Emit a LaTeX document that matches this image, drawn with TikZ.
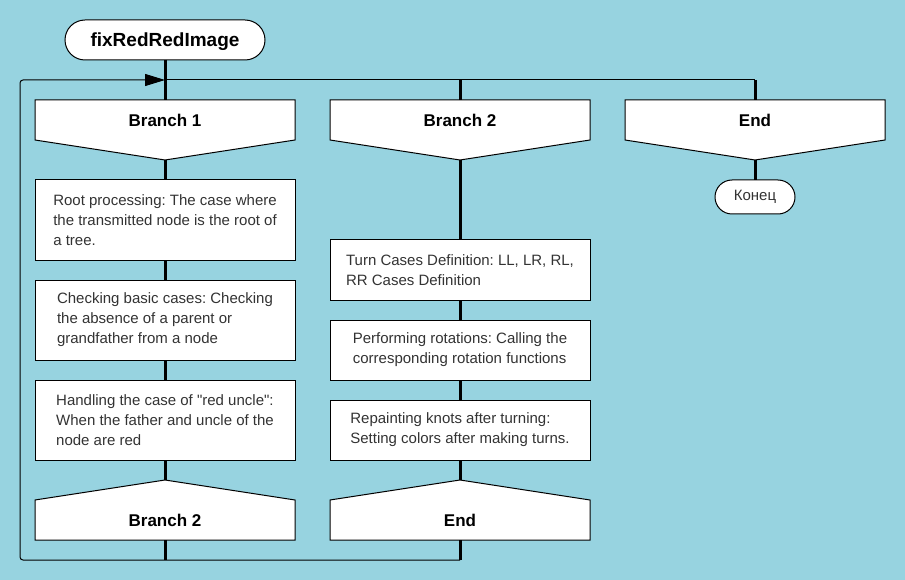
\documentclass[tikz,border=0pt]{standalone}
\usepackage{fontspec}
\setmainfont{Liberation Sans}
\usetikzlibrary{positioning,arrows.meta,backgrounds}

\definecolor{sky}{RGB}{151,211,224}
\definecolor{ink}{RGB}{51,51,51}

\tikzset{
	term/.style = {draw, fill=white, line width=1pt, rounded corners=#1,
		inner sep=0pt, outer sep=0pt, text=black},
	head/.style = {minimum width=260pt, minimum height=40pt, inner sep=0pt,
		outer sep=0pt, font=\bfseries\fontsize{17}{20}\selectfont, text=black},
	stepbox/.style = {draw, fill=white, line width=1pt, minimum width=260pt,
		minimum height=#1, inner sep=0pt, outer sep=0pt, align=left,
		font=\fontsize{15}{20}\selectfont, text=ink},
	shp/.style = {draw, fill=white, line width=1pt},
	link/.style = {line width=3pt},
	loopline/.style = {line width=1pt},
}

\begin{document}
\frenchspacing
\begin{tikzpicture}[x=1pt, y=-1pt]
	\useasboundingbox (0,0) rectangle (905,580);

	% title and branch heads
	\node[term=20pt, minimum width=200pt, minimum height=40pt, text depth=0pt,
		font=\bfseries\fontsize{19}{22}\selectfont] (title) at (165,40) {fixRedRedImage};
	\node[head] (h1) at (165,120) {Branch 1};
	\node[head] (h2) at (460,120) {Branch 2};
	\node[head] (h3) at (755,120) {End};

	% branch 1
	\node[stepbox=80pt, below = 40pt of h1] (a1) {Root processing: The case where\\the transmitted node is the root of\\a tree.};
	\node[stepbox=80pt, below = 20pt of a1] (a2) {Checking basic cases: Checking\\the absence of a parent or\\grandfather from a node};
	\node[stepbox=80pt, below = 20pt of a2] (a3) {Handling the case of \textquotedbl red uncle\textquotedbl:\\When the father and uncle of the\\node are red};
	\node[head, below = 40pt of a3] (f1) {Branch 2};

	% branch 2
	\node[stepbox=60pt, below = 100pt of h2] (b1) {Turn Cases Definition: LL, LR, RL,\\RR Cases Definition};
	\node[stepbox=60pt, below = 20pt of b1] (b2) {Performing rotations: Calling the\\corresponding rotation functions};
	\node[stepbox=60pt, below = 20pt of b2] (b3) {Repainting knots after turning:\\Setting colors after making turns.};
	\node[head, below = 40pt of b3] (f2) {End};

	% end
	\node[term=17pt, minimum width=80pt, minimum height=34pt,
		font=\fontsize{15}{18}\selectfont, text=ink, below = 40pt of h3] (fin) {Конец};

	\begin{scope}[on background layer]
		\fill[sky] (0,0) rectangle (905,580);
		\foreach \n in {h1,h2,h3}
			\draw[shp] (\n.north west) -- (\n.north east) -- (\n.south east)
				-- ([yshift=-20pt]\n.south) -- (\n.south west) -- cycle;
		\foreach \n in {f1,f2}
			\draw[shp] (\n.south west) -- (\n.south east) -- (\n.north east)
				-- ([yshift=20pt]\n.north) -- (\n.north west) -- cycle;
	\end{scope}

	\coordinate (h1p) at ([yshift=-20pt]h1.south);
	\coordinate (h2p) at ([yshift=-20pt]h2.south);
	\coordinate (h3p) at ([yshift=-20pt]h3.south);
	\coordinate (f1p) at ([yshift=20pt]f1.north);
	\coordinate (f2p) at ([yshift=20pt]f2.north);
	\coordinate (jn) at (165,80);
	\coordinate (e2) at (460,80);
	\coordinate (e3) at (755,80);
	\coordinate (lt) at (20,80);
	\coordinate (lb) at (20,560);
	\coordinate (j1) at (165,560);
	\coordinate (j2) at (460,560);

	% loop back
	\draw[loopline, rounded corners=3pt, -{Triangle[length=20pt, width=12pt]}]
		(j2) -- (lb) -- (lt) -- (jn);
	\draw[loopline] (jn) -- (e3);

	% connectors
	\draw[link] (title) -- (h1);
	\draw[link] (h1p) -- (a1);
	\draw[link] (a1) -- (a2);
	\draw[link] (a2) -- (a3);
	\draw[link] (a3) -- (f1p);
	\draw[link] (f1) -- (j1);
	\draw[link] (e2) -- (h2);
	\draw[link] (h2p) -- (b1);
	\draw[link] (b1) -- (b2);
	\draw[link] (b2) -- (b3);
	\draw[link] (b3) -- (f2p);
	\draw[link] (f2) -- (j2);
	\draw[link] (e3) -- (h3);
	\draw[link] (h3p) -- (fin);
\end{tikzpicture}
\end{document}
